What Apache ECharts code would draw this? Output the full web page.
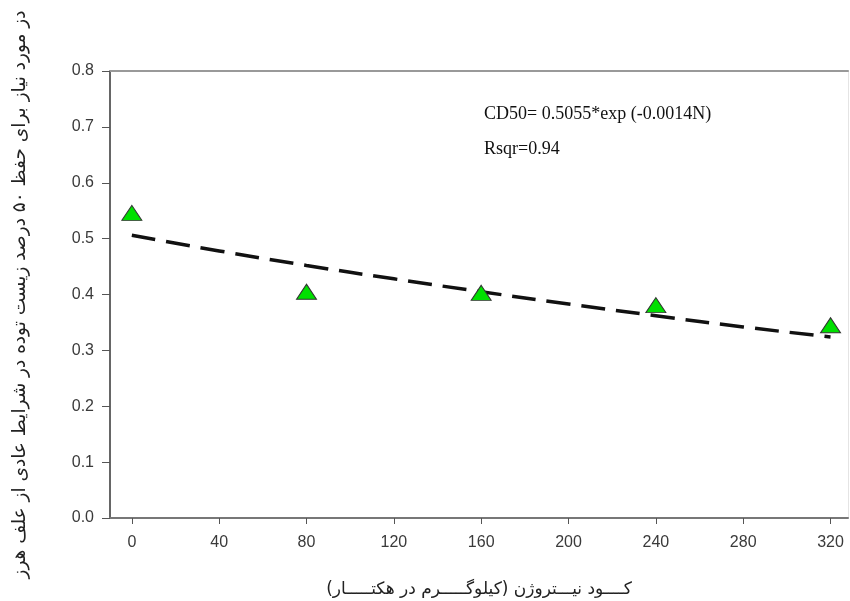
<!DOCTYPE html>
<html>
<head>
<meta charset="utf-8">
<script src="https://cdn.jsdelivr.net/npm/echarts@6/dist/echarts.min.js"></script>
<style>
  html, body { margin: 0; padding: 0; background: #fff; }
  #main { width: 850px; height: 601px; }
</style>
</head>
<body>
<div id="main"></div>
<script>
// nitrogen rates (kg/ha)
var nRates = [0, 80, 160, 240, 320];
// observed CD50 values (triangles)
var cd50Obs = [0.546, 0.405, 0.403, 0.381, 0.345];
// fitted curve
var fitN = [0, 40, 80, 120, 160, 200, 240, 280, 320];
var fitVal = [0.506, 0.478, 0.452, 0.428, 0.405, 0.383, 0.362, 0.342, 0.324];
// x tick labels
var xTicks = [0, 40, 80, 120, 160, 200, 240, 280, 320];

var xTitle = 'کــــود نیـــتروژن (کیلوگـــــرم در هکتـــــار)';
var yTitle = 'دز مورد نیاز برای حفظ ۵۰ درصد زیست توده در شرایط عادی از علف هرز';
var eqText = 'CD50= 0.5055*exp (-0.0014N)';
var rText = 'Rsqr=0.94';

var obsData = [], fitData = [];
for (var i = 0; i < nRates.length; i++) obsData.push([nRates[i], cd50Obs[i]]);
for (var j = 0; j < fitN.length; j++) fitData.push([fitN[j], fitVal[j]]);

var option = {
    backgroundColor: '#fff',
    animation: false,
    grid: { left: 110, right: 2, top: 71, bottom: 83, outerBoundsMode: 'none', containLabel: false },
    xAxis: [
        {
            type: 'value',
            min: -10,
            max: 328,
            name: xTitle,
            nameLocation: 'middle',
            nameGap: 63,
            nameTextStyle: { fontFamily: 'DejaVu Sans', fontSize: 17, color: '#222' },
            axisLine: { show: true, onZero: false, lineStyle: { color: '#777', width: 2 } },
            axisTick: { show: true, length: 6, customValues: xTicks, lineStyle: { color: '#555' } },
            axisLabel: {
                margin: 17,
                fontFamily: 'Liberation Sans', fontSize: 16, color: '#3a3a3a',
                customValues: xTicks
            },
            splitLine: { show: false }
        },
        {
            type: 'value',
            position: 'top',
            min: -10,
            max: 328,
            axisLine: { show: true, onZero: false, lineStyle: { color: '#999', width: 2 } },
            axisTick: { show: false },
            axisLabel: { show: false },
            splitLine: { show: false }
        }
    ],
    yAxis: [
        {
            type: 'value',
            min: 0,
            max: 0.8,
            interval: 0.1,
            name: yTitle,
            nameLocation: 'middle',
            nameGap: 80,
            nameRotate: 90,
            nameTextStyle: { fontFamily: 'DejaVu Sans', fontSize: 18.5, color: '#222' },
            axisLine: { show: true, onZero: false, lineStyle: { color: '#333', width: 1.5 } },
            axisTick: { show: true, length: 8, lineStyle: { color: '#555' } },
            axisLabel: {
                margin: 16,
                fontFamily: 'Liberation Sans', fontSize: 16, color: '#3a3a3a',
                formatter: function (v) { return v.toFixed(1); }
            },
            splitLine: { show: false }
        },
        {
            type: 'value',
            position: 'right',
            min: 0,
            max: 0.8,
            axisLine: { show: true, onZero: false, lineStyle: { color: '#e4e4e4', width: 1 } },
            axisTick: { show: false },
            axisLabel: { show: false },
            splitLine: { show: false }
        }
    ],
    series: [
        {
            name: 'fit',
            type: 'line',
            data: fitData,
            smooth: true,
            showSymbol: false,
            lineStyle: { color: '#111', width: 3.5, type: [24, 11] },
            z: 2
        },
        {
            name: 'CD50',
            type: 'scatter',
            data: obsData,
            symbol: 'triangle',
            symbolSize: [20, 15],
            itemStyle: { color: '#00e000', borderColor: '#333', borderWidth: 1, opacity: 1 },
            z: 3
        }
    ],
    graphic: [
        {
            type: 'text',
            left: 484,
            top: 105,
            style: { text: eqText, fontFamily: 'Liberation Serif', fontSize: 18, fill: '#111' }
        },
        {
            type: 'text',
            left: 484,
            top: 140,
            style: { text: rText, fontFamily: 'Liberation Serif', fontSize: 18, fill: '#111' }
        }
    ]
};

var myChart = echarts.init(document.getElementById('main'));
myChart.setOption(option);
</script>
</body>
</html>
